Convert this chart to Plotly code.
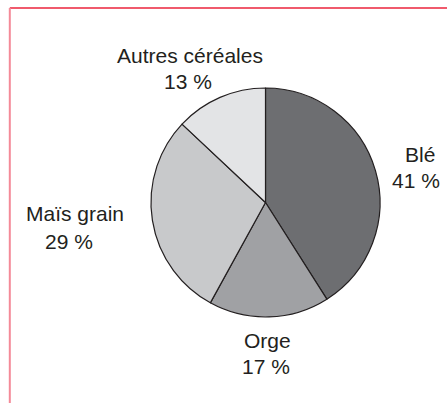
import plotly.graph_objects as go

categories = ["Blé", "Orge", "Maïs grain", "Autres céréales"]
values = [41, 17, 29, 13]
pct_labels = ["41 %", "17 %", "29 %", "13 %"]
colors = ["#6d6e71", "#a0a1a4", "#c8c9cb", "#e3e4e6"]

W, H = 447, 403

def px(x):
    return x / W

def py(y):
    return 1 - y / H

cx, cy, r = 265.5, 202.5, 114.5

fig = go.Figure(go.Pie(
    labels=categories,
    values=values,
    sort=False,
    direction="clockwise",
    rotation=0,
    marker=dict(colors=colors, line=dict(color="#231f20", width=1.2)),
    textinfo="none",
    hoverinfo="label+percent",
    showlegend=False,
    domain=dict(x=[px(cx - r), px(cx + r)], y=[py(cy + r), py(cy - r)]),
))

# label positions (pixels) for name and percent lines
label_pos = {
    "Blé": ((420, 154), (416, 180)),
    "Orge": ((267, 340), (266, 366)),
    "Maïs grain": ((75, 213), (69, 241)),
    "Autres céréales": ((190, 56), (188, 81)),
}

annotations = []
for cat, pct in zip(categories, pct_labels):
    (x1, y1), (x2, y2) = label_pos[cat]
    for txt, (x, y) in ((cat, (x1, y1)), (pct, (x2, y2))):
        annotations.append(dict(
            x=px(x), y=py(y), xref="paper", yref="paper",
            text=txt, showarrow=False, xanchor="center", yanchor="middle",
            font=dict(family="Liberation Sans, Arial, sans-serif", size=21, color="#231f20"),
        ))

shapes = [
    dict(type="line", xref="paper", yref="paper", x0=px(9.8), x1=1.0, y0=py(8), y1=py(8),
         line=dict(color="#f05a6c", width=2)),
    dict(type="line", xref="paper", yref="paper", x0=px(9.8), x1=px(9.8), y0=py(8), y1=0,
         line=dict(color="#f48a98", width=2)),
]

fig.update_layout(
    width=W, height=H,
    margin=dict(l=0, r=0, t=0, b=0),
    paper_bgcolor="white",
    plot_bgcolor="white",
    annotations=annotations,
    shapes=shapes,
)

fig.write_html(
    "out.html",
    config={"displayModeBar": False},
    post_script="document.body.style.margin='0px';document.body.style.overflow='hidden';",
)
